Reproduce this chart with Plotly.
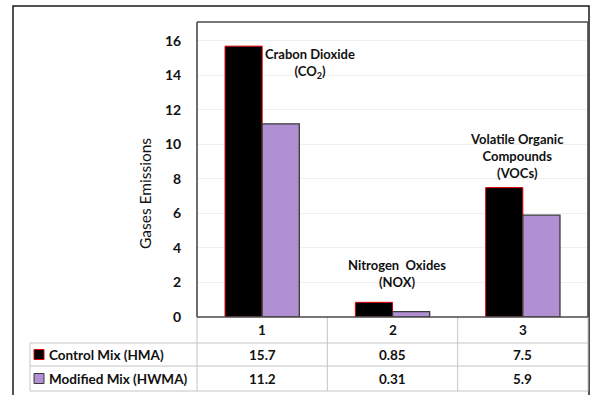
import plotly.graph_objects as go

# ---- data -------------------------------------------------------------
categories = ["1", "2", "3"]
control_mix = [15.7, 0.85, 7.5]
modified_mix = [11.2, 0.31, 5.9]
series_names = ["Control Mix (HMA)", "Modified Mix (HWMA)"]
gas_labels = [
    "Crabon Dioxide<br>(CO<sub>2</sub>)",
    "Nitrogen  Oxides<br>(NOX)",
    "Volatile Organic<br>Compounds<br>(VOCs)",
]
y_ticks = [0, 2, 4, 6, 8, 10, 12, 14, 16]

# ---- page geometry (pixels) ------------------------------------------
W, H = 592, 395
PL, PR, PT, PB = 197, 588, 22, 317      # plot area box
TABLE_LEFT = 30
ROW_LINES = [343, 366, 391]             # table horizontal rules below axis
FONT = "Lato"
BLACK_FILL, BLACK_EDGE = "#000000", "#e00000"
PURPLE_FILL, PURPLE_EDGE = "#b08fd2", "#3a3a3a"


def px(x):
    return (x - PL) / (PR - PL)


def py(y):
    return (PB - y) / (PB - PT)


fig = go.Figure()
fig.add_trace(go.Bar(
    x=categories, y=control_mix, name=series_names[0],
    marker=dict(color=BLACK_FILL, line=dict(color=BLACK_EDGE, width=1)),
))
fig.add_trace(go.Bar(
    x=categories, y=modified_mix, name=series_names[1],
    marker=dict(color=PURPLE_FILL, line=dict(color=PURPLE_EDGE, width=1.3)),
))

shapes = []
annotations = []

# outer chart frame
shapes.append(dict(type="rect", xref="paper", yref="paper",
                   x0=px(13), x1=px(589), y0=py(6), y1=py(400),
                   line=dict(color="#1a1a1a", width=1.5), layer="below"))

# data table grid
grid = dict(color="#c4c4c4", width=1)
for xl in [PL, PL + (PR - PL) / 3, PL + 2 * (PR - PL) / 3, PR]:
    shapes.append(dict(type="line", xref="paper", yref="paper",
                       x0=px(xl), x1=px(xl), y0=py(PB), y1=py(ROW_LINES[-1]),
                       line=grid))
for yl in ROW_LINES:
    shapes.append(dict(type="line", xref="paper", yref="paper",
                       x0=px(TABLE_LEFT), x1=px(PR), y0=py(yl), y1=py(yl),
                       line=grid))
shapes.append(dict(type="line", xref="paper", yref="paper",
                   x0=px(TABLE_LEFT), x1=px(TABLE_LEFT),
                   y0=py(ROW_LINES[0]), y1=py(ROW_LINES[-1]), line=grid))

# plot area frame (top / left / right) and baseline
frame = dict(color="#4a4a4a", width=1.6)
shapes.append(dict(type="line", xref="paper", yref="paper", x0=0, x1=1, y0=1, y1=1, line=frame))
shapes.append(dict(type="line", xref="paper", yref="paper", x0=0, x1=0, y0=0, y1=1, line=frame))
shapes.append(dict(type="line", xref="paper", yref="paper", x0=1, x1=1, y0=0, y1=1, line=frame))
shapes.append(dict(type="line", xref="paper", yref="paper", x0=0, x1=1, y0=0, y1=0, line=frame))

# table rows: legend key + values (x given as category index)
row_centers = [354.5, 378.5]
row_values = [control_mix, modified_mix]
swatches = [(BLACK_FILL, BLACK_EDGE), (PURPLE_FILL, PURPLE_EDGE)]
cell_font = dict(family=FONT, size=13.5, color="#111111", weight="bold")
for name, yc, vals, (fill, edge) in zip(series_names, row_centers, row_values, swatches):
    shapes.append(dict(type="rect", xref="paper", yref="paper",
                       x0=px(34), x1=px(44), y0=py(yc - 5), y1=py(yc + 5),
                       fillcolor=fill, line=dict(color=edge, width=1)))
    annotations.append(dict(xref="paper", yref="paper", x=px(47), y=py(yc),
                            text=name, showarrow=False, xanchor="left",
                            yanchor="middle", font=cell_font))
    for i, v in enumerate(vals):
        annotations.append(dict(xref="x", yref="paper", x=i, y=py(yc),
                                text=f"{v:g}", showarrow=False, xanchor="center",
                                yanchor="middle", font=cell_font))

# category header row
for i, cat in enumerate(categories):
    annotations.append(dict(xref="x", yref="paper", x=i, y=py(330),
                            text=cat, showarrow=False, xanchor="center",
                            yanchor="middle", font=cell_font))

# gas name labels
label_pos = [(310, 63), (397, 273), (517, 156)]
for text, (lx, ly) in zip(gas_labels, label_pos):
    annotations.append(dict(xref="paper", yref="paper", x=px(lx), y=py(ly),
                            text=text, showarrow=False, xanchor="center",
                            yanchor="middle",
                            font=dict(family=FONT, size=13, color="#111111", weight="bold")))

# y-axis title
annotations.append(dict(xref="paper", yref="paper", x=px(145), y=py(194),
                        text="Gases Emissions", showarrow=False, textangle=-90,
                        xanchor="center", yanchor="middle",
                        font=dict(family=FONT, size=15.5, color="#111111")))

fig.update_layout(
    width=W, height=H,
    margin=dict(l=PL, r=W - PR, t=PT, b=H - PB),
    paper_bgcolor="white", plot_bgcolor="white",
    barmode="group", bargap=0.43, bargroupgap=0,
    showlegend=False,
    shapes=shapes, annotations=annotations,
    xaxis=dict(type="category", range=[-0.5, 2.5], showticklabels=False,
               showgrid=False, zeroline=False, showline=False, ticks=""),
    yaxis=dict(range=[0, 17.1], tickvals=y_ticks, showgrid=True,
               gridcolor="#efefef", gridwidth=1, zeroline=False,
               showline=False, ticks="outside", ticklen=0,
               ticklabelstandoff=12,
               tickfont=dict(family=FONT, size=14, color="#111111", weight="bold")),
)

fig.write_html("out.html")
